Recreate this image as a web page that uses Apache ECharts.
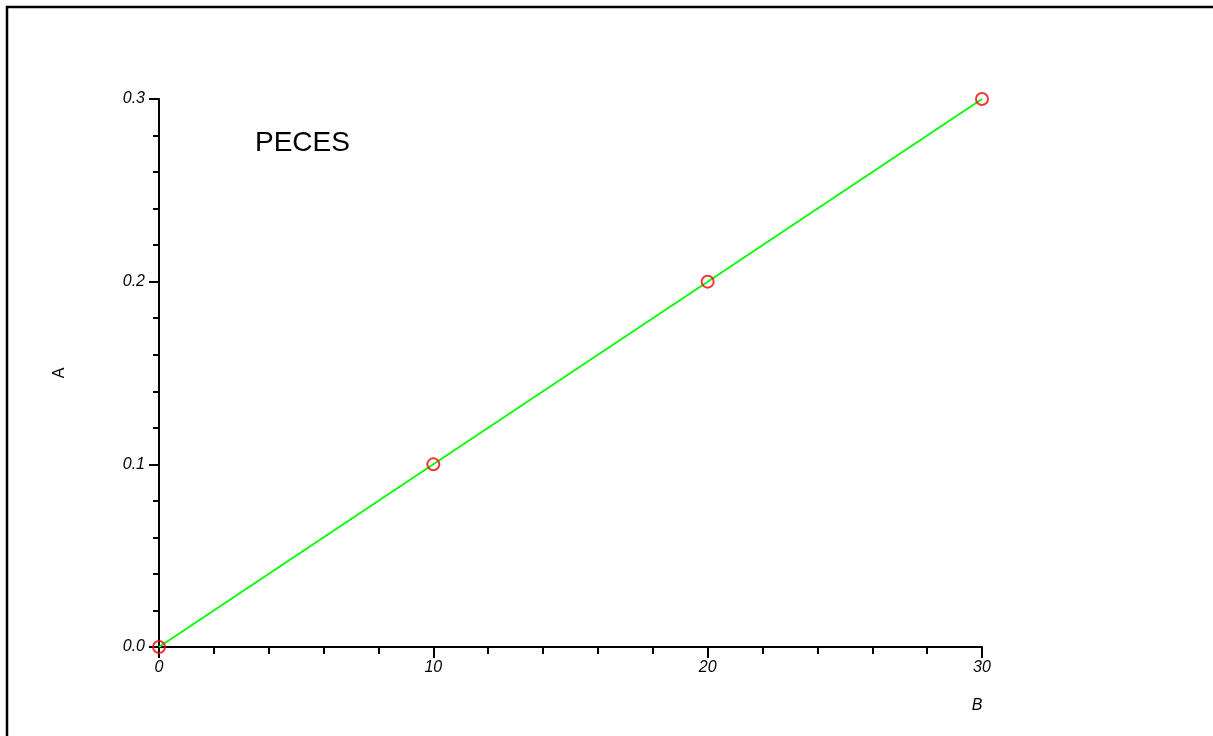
<!DOCTYPE html>
<html>
<head>
<meta charset="utf-8">
<title>PECES</title>
<script src="https://cdn.jsdelivr.net/npm/echarts@6/dist/echarts.min.js"></script>
<style>
  html, body { margin: 0; padding: 0; background: #fff; }
  #chart { width: 1213px; height: 736px; }
</style>
</head>
<body>
<div id="chart"></div>
<script>
// Measured values: B on the horizontal axis, A on the vertical axis
const bValues = [0, 10, 20, 30];
const aValues = [0.0, 0.1, 0.2, 0.3];
const xTicks = [0, 30, 10];   // min, max, step
const yTicks = [0, 0.3, 0.1]; // min, max, step

const points = bValues.map((b, i) => [b, aValues[i]]);
const font = '"Liberation Sans", Arial, sans-serif';

const chart = echarts.init(document.getElementById('chart'), null, { renderer: 'canvas' });

chart.setOption({
  backgroundColor: '#ffffff',
  animation: false,
  grid: { left: 159, right: 231, top: 99, bottom: 89, containLabel: false },
  xAxis: {
    type: 'value',
    min: xTicks[0], max: xTicks[1], interval: xTicks[2],
    axisLine: { onZero: false, lineStyle: { color: '#000', width: 2 } },
    axisTick: { length: 11, lineStyle: { color: '#000', width: 2 } },
    minorTick: { show: true, splitNumber: 5, length: 7, lineStyle: { color: '#000', width: 2 } },
    splitLine: { show: false },
    axisLabel: { color: '#000', fontSize: 16, fontStyle: 'italic', fontFamily: font, margin: 13 }
  },
  yAxis: {
    type: 'value',
    min: yTicks[0], max: yTicks[1], interval: yTicks[2],
    axisLine: { onZero: false, lineStyle: { color: '#000', width: 2 } },
    axisTick: { length: 10, lineStyle: { color: '#000', width: 2 } },
    minorTick: { show: true, splitNumber: 5, length: 6, lineStyle: { color: '#000', width: 2 } },
    splitLine: { show: false },
    axisLabel: {
      color: '#000', fontSize: 16, fontStyle: 'italic', fontFamily: font, margin: 14,
      formatter: v => v.toFixed(1)
    }
  },
  series: [
    {
      type: 'line',
      data: points,
      showSymbol: false,
      symbol: 'none',
      lineStyle: { color: '#00ff00', width: 1.8 },
      z: 2
    },
    {
      type: 'scatter',
      data: points,
      symbol: 'circle',
      symbolSize: 12,
      clip: false,
      itemStyle: { color: 'rgba(0,0,0,0)', borderColor: '#ff0000', borderWidth: 2 },
      z: 3
    }
  ],
  graphic: [
    {
      type: 'polyline',
      shape: { points: [[7, 736], [7, 7], [1213, 7]] },
      style: { stroke: '#000', lineWidth: 2.5, fill: null }
    },
    {
      type: 'text', x: 255, y: 143,
      style: { text: 'PECES', fontSize: 28, fontFamily: font, fill: '#000', align: 'left', verticalAlign: 'middle' }
    },
    {
      type: 'text', x: 977, y: 706,
      style: { text: 'B', fontSize: 16, fontStyle: 'italic', fontFamily: font, fill: '#000', align: 'center', verticalAlign: 'middle' }
    },
    {
      type: 'text', x: 60, y: 373, rotation: Math.PI / 2,
      style: { text: 'A', fontSize: 16, fontFamily: font, fill: '#000', align: 'center', verticalAlign: 'middle' }
    }
  ]
});
</script>
</body>
</html>
